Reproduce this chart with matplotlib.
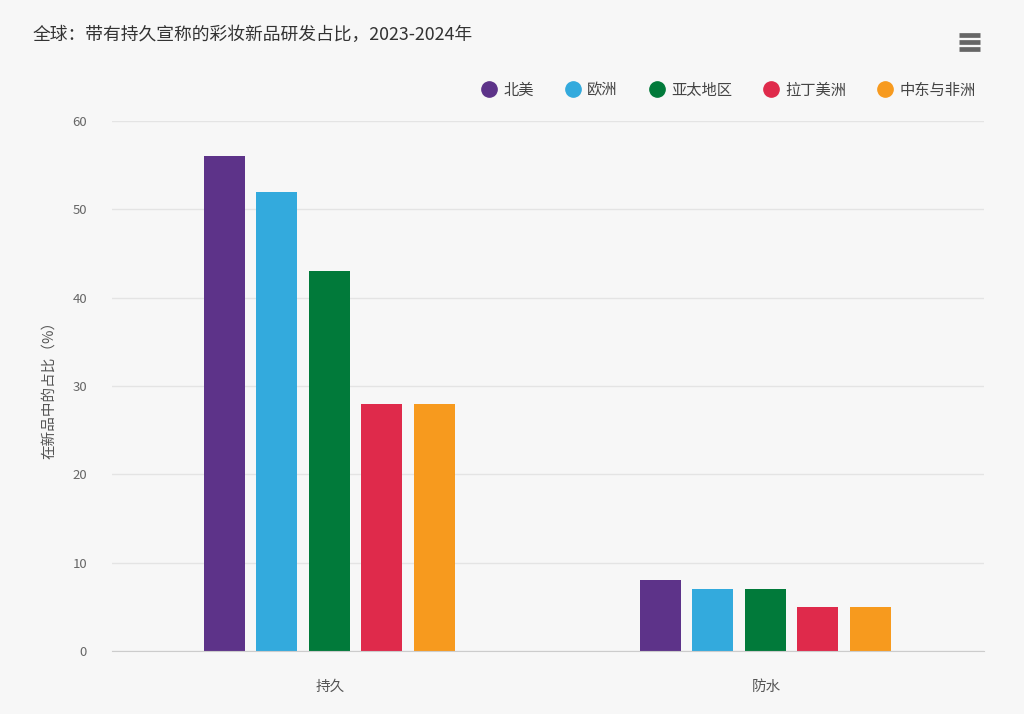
import matplotlib
matplotlib.use("Agg")
import matplotlib.pyplot as plt
from matplotlib.lines import Line2D
import numpy as np

plt.rcParams['font.family'] = ['Noto Sans CJK SC', 'DejaVu Sans']

categories = ["持久", "防水"]
regions = ["北美", "欧洲", "亚太地区", "拉丁美洲", "中东与非洲"]
values = {
    "北美": [56, 8],
    "欧洲": [52, 7],
    "亚太地区": [43, 7],
    "拉丁美洲": [28, 5],
    "中东与非洲": [28, 5],
}
colors = ["#5d3389", "#33aadd", "#017a3a", "#df2a4b", "#f79a1e"]
yticks = [0, 10, 20, 30, 40, 50, 60]

bg = "#f7f7f7"
fig = plt.figure(figsize=(10.24, 7.14), dpi=100, facecolor=bg)
ax = fig.add_axes([112/1024, 63/714, 872/1024, 530/714])
ax.set_facecolor(bg)

x = np.arange(len(categories))
bw = 0.094
step = 0.1205
for i, r in enumerate(regions):
    ax.bar(x + (i - 2) * step - 0.002, values[r], width=bw, color=colors[i], label=r, zorder=3)

ax.set_xlim(-0.5, 1.5)
ax.set_ylim(0, 60)
ax.set_yticks(yticks)
ax.set_xticks(x)
ax.set_xticklabels(categories, fontsize=10.5, color="#555555")
ax.tick_params(axis='y', length=0, pad=18, labelsize=9.5, labelcolor="#666666")
ax.tick_params(axis='x', length=0, pad=21)
ax.grid(axis='y', color="#e4e4e4", linewidth=1, zorder=0)
for s in ["top", "right", "left"]:
    ax.spines[s].set_visible(False)
ax.spines["bottom"].set_color("#cccccc")
ax.spines["bottom"].set_zorder(4)
ax.set_ylabel("在新品中的占比（%）", fontsize=10.5, color="#555555", labelpad=12)

fig.text(33/1024, 1 - 35/714, "全球：带有持久宣称的彩妆新品研发占比，2023-2024年",
         fontsize=12.8, color="#333333", va="center", ha="left")

handles = [Line2D([0], [0], marker='o', linestyle='', markersize=11,
                  markerfacecolor=c, markeredgecolor=c) for c in colors]
fig.legend(handles, regions, loc="center right", bbox_to_anchor=(990/1024, 1 - 90/714),
           ncol=5, frameon=False, fontsize=11, labelcolor="#444444",
           handletextpad=0.35, columnspacing=1.95, handlelength=1.2)

# menu icon
for yy in [35, 42, 49]:
    fig.add_artist(Line2D([959/1024, 980/1024], [1 - yy/714, 1 - yy/714],
                          color="#666666", linewidth=3.4, solid_capstyle='butt'))

fig.savefig("out.png", dpi=100, facecolor=bg)
